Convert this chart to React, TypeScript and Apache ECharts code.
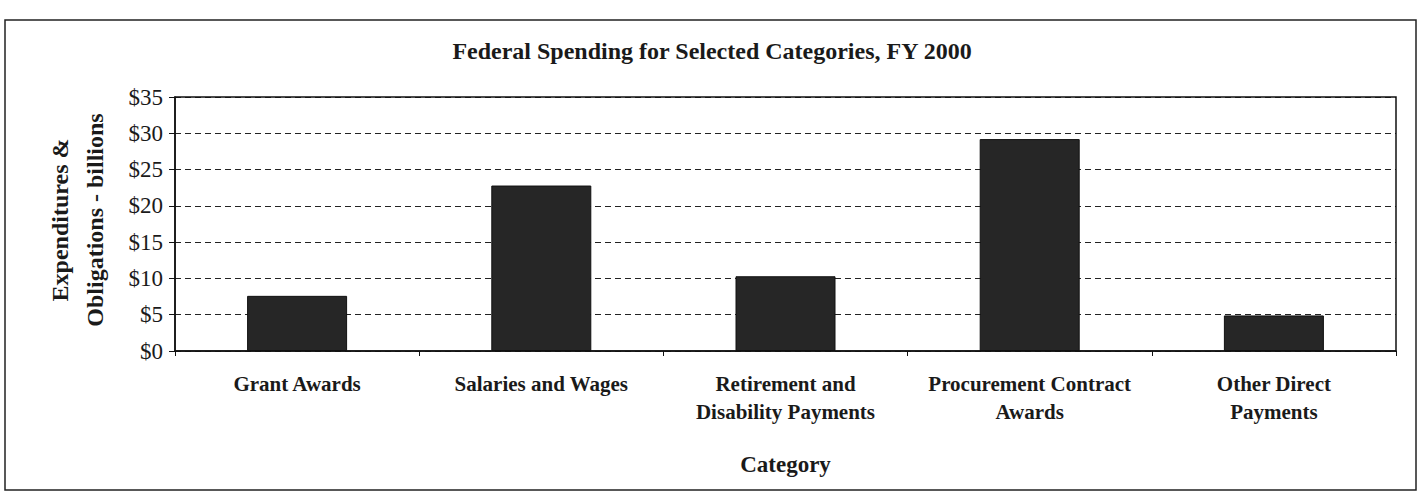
import React, { useEffect, useRef } from "react";
import * as echarts from "echarts";

const categories = [
  "Grant Awards",
  "Salaries and Wages",
  "Retirement and\nDisability Payments",
  "Procurement Contract\nAwards",
  "Other Direct\nPayments",
];
const values = [7.6, 22.8, 10.3, 29.2, 4.9];
const yTicks = { min: 0, max: 35, interval: 5 };

const SERIF = "'Liberation Serif', 'Times New Roman', serif";

export default function App() {
  const ref = useRef<HTMLDivElement>(null);
  useEffect(() => {
    if (!ref.current) return;
    const chart = echarts.init(ref.current, undefined, { renderer: "svg" });
    chart.setOption({
      animation: false,
      backgroundColor: "#ffffff",
      title: {
        text: "Federal Spending for Selected Categories, FY 2000",
        left: "center",
        top: 34,
        textStyle: { fontFamily: SERIF, fontWeight: "bold", fontSize: 24, color: "#1a1a1a" },
      },
      graphic: [
        {
          type: "rect",
          shape: { x: 5, y: 20, width: 1411, height: 470 },
          style: { fill: "none", stroke: "#222", lineWidth: 1.5 },
          silent: true,
        },
        {
          type: "rect",
          shape: { x: 175, y: 97, width: 1221, height: 254 },
          style: { fill: "none", stroke: "#111", lineWidth: 1.5 },
          silent: true,
          z: 10,
        },
        {
          type: "text",
          x: 77,
          y: 220,
          rotation: Math.PI / 2,
          style: {
            text: "Expenditures &\nObligations - billions",
            fontFamily: SERIF,
            fontWeight: "bold",
            fontSize: 24,
            lineHeight: 35,
            fill: "#1a1a1a",
            align: "center",
            verticalAlign: "middle",
          },
        },
      ],
      grid: { left: 175, right: 28, top: 97, bottom: 142, containLabel: false },
      xAxis: {
        type: "category",
        data: categories,
        name: "Category",
        nameLocation: "middle",
        nameGap: 102,
        nameTextStyle: { fontFamily: SERIF, fontWeight: "bold", fontSize: 23, color: "#1a1a1a" },
        axisLine: { lineStyle: { color: "#111", width: 1.5 } },
        axisTick: { show: true, length: 5, lineStyle: { color: "#111" } },
        axisLabel: {
          fontFamily: SERIF,
          fontWeight: "bold",
          fontSize: 21,
          lineHeight: 28,
          color: "#1a1a1a",
          margin: 19,
          interval: 0,
        },
      },
      yAxis: {
        type: "value",
        min: yTicks.min,
        max: yTicks.max,
        interval: yTicks.interval,
        axisLine: { show: true, lineStyle: { color: "#111", width: 1.5 } },
        axisTick: { show: true, length: 6, lineStyle: { color: "#111" } },
        axisLabel: {
          formatter: (v: number) => "$" + v,
          fontFamily: SERIF,
          fontSize: 23,
          color: "#1a1a1a",
          margin: 12,
        },
        splitLine: { show: true, lineStyle: { color: "#222", type: [6, 4], width: 1.2 } },
      },
      series: [
        {
          type: "bar",
          data: values,
          barWidth: 100,
          itemStyle: { color: "#262626", borderColor: "#111", borderWidth: 1 },
        },
      ],
    });
    return () => chart.dispose();
  }, []);
  return (
    <div
      ref={ref}
      style={{ position: "absolute", left: 0, top: 0, width: 1424, height: 493 }}
    />
  );
}
